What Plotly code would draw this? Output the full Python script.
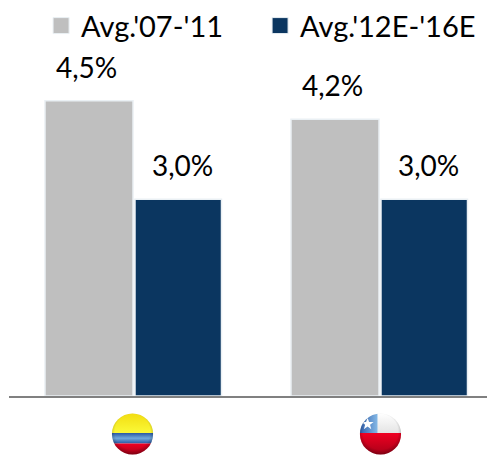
import base64
import plotly.graph_objects as go

categories = ["Colombia", "Chile"]
series_names = ["Avg.'07-'11", "Avg.'12E-'16E"]
hist_values = [4.5, 4.22]
fcst_values = [3.0, 3.0]
hist_labels = ["4,5%", "4,2%"]
fcst_labels = ["3,0%", "3,0%"]
colors = ["#BFBFBF", "#0B3660"]

# The page keeps the browser's 8 px body margin, so the figure is 8 px smaller each way.
W, H = 487, 448
PLOT_H = 388
PX_PER_CAT = 246
PX_PER_UNIT = 65.6
FONT = "Lato, Carlito, Calibri, sans-serif"
FLAG_SHIFT = [-0.006, 0.002]


def flag(body):
    svg = f"""<svg xmlns='http://www.w3.org/2000/svg' width='84' height='84' viewBox='0 0 42 42'>
<defs><clipPath id='c'><circle cx='21' cy='21' r='20.6'/></clipPath>
<radialGradient id='g' cx='50%' cy='45%' r='56%'>
<stop offset='0.75' stop-color='#000' stop-opacity='0'/>
<stop offset='1' stop-color='#000' stop-opacity='0.32'/></radialGradient>
<linearGradient id='b' x1='0' y1='0' x2='0' y2='1'><stop offset='0' stop-color='#2A58A2'/><stop offset='0.5' stop-color='#6FA8DC'/><stop offset='1' stop-color='#2A58A2'/></linearGradient>
<linearGradient id='r' x1='0' y1='0' x2='0' y2='1'><stop offset='0' stop-color='#F00022'/><stop offset='1' stop-color='#A80018'/></linearGradient>
<linearGradient id='y' x1='0' y1='0' x2='0' y2='1'><stop offset='0' stop-color='#F2DC10'/><stop offset='1' stop-color='#FBFB3A'/></linearGradient>
<linearGradient id='w' x1='0' y1='0' x2='0' y2='1'><stop offset='0' stop-color='#FFFFFF'/><stop offset='1' stop-color='#E4E4E4'/></linearGradient>
<linearGradient id='s' x1='0' y1='0' x2='1' y2='0'><stop offset='0' stop-color='#2F5DAA'/><stop offset='1' stop-color='#84B8E6'/></linearGradient>
</defs><g clip-path='url(#c)'>{body}<rect width='42' height='42' fill='url(#g)'/></g></svg>"""
    return "data:image/svg+xml;base64," + base64.b64encode(svg.encode()).decode()


colombia = ("<rect width='42' height='21' fill='url(#y)'/>"
            "<rect y='20' width='42' height='10.5' fill='url(#b)'/>"
            "<rect y='30.5' width='42' height='11.5' fill='url(#r)'/>")
chile = ("<rect width='42' height='20' fill='url(#w)'/>"
         "<rect width='18' height='20' fill='url(#s)'/>"
         "<polygon points='8,6.5 9.6,11 14.3,11.1 10.6,14 11.9,18.6 8,15.9 4.1,18.6 5.4,14 1.7,11.1 6.4,11' fill='#fff' transform='translate(0.5,-1.5) scale(0.95)'/>"
         "<rect y='20' width='42' height='22' fill='url(#r)'/>")
flags = [flag(colombia), flag(chile)]

bar_geometry = [(-89 / PX_PER_CAT, 88 / PX_PER_CAT), (1 / PX_PER_CAT, 86.5 / PX_PER_CAT)]

fig = go.Figure()
for name, vals, col, (off, wid) in zip(series_names, [hist_values, fcst_values], colors, bar_geometry):
    fig.add_trace(go.Bar(x=[0, 1], y=vals, name=name, showlegend=False, offset=off, width=wid,
                         marker=dict(color=col, line=dict(color="#EAF0F4", width=1.5))))
    fig.add_trace(go.Scatter(x=[None], y=[None], name=name, mode="markers",
                             marker=dict(symbol="square", size=16, color=col,
                                         line=dict(color="#EAF0F4", width=1))))

annotations = []
for off, vals, labels, dx in [(-0.18, hist_values, hist_labels, -3),
                              (0.18, fcst_values, fcst_labels, 4)]:
    for i, (v, t) in enumerate(zip(vals, labels)):
        annotations.append(dict(x=i + off, y=v, text=t, showarrow=False, xref="x", yref="y",
                                yanchor="bottom", yshift=15, xshift=dx,
                                font=dict(family=FONT, size=28, color="#000000")))

images = [dict(source=f, xref="x", yref="paper", x=i + FLAG_SHIFT[i], y=-(434 - 396) / PLOT_H,
               sizex=42 / PX_PER_CAT, sizey=42 / PLOT_H, xanchor="center", yanchor="middle",
               sizing="contain", layer="above") for i, f in enumerate(flags)]

fig.update_layout(
    width=W, height=H, autosize=False,
    margin=dict(l=1, r=0, t=0, b=H - PLOT_H, autoexpand=False),
    paper_bgcolor="white", plot_bgcolor="white",
    barmode="group",
    showlegend=True,
    legend=dict(orientation="h", x=0.066, y=1.02, xanchor="left", yanchor="top",
                font=dict(family=FONT, size=29, color="#000000"),
                bgcolor="rgba(0,0,0,0)", itemsizing="trace", entrywidth=174, entrywidthmode="pixels",
                itemclick=False),
    xaxis=dict(range=[-125 / PX_PER_CAT, 361 / PX_PER_CAT], tickvals=[0, 1], ticktext=["", ""],
               showgrid=False, zeroline=False, showline=True, linecolor="#808080", linewidth=2,
               ticks="", fixedrange=True),
    yaxis=dict(range=[0, PLOT_H / PX_PER_UNIT], visible=False, fixedrange=True),
    annotations=annotations, images=images,
)
fig.write_html("out.html", config=dict(displayModeBar=False))
